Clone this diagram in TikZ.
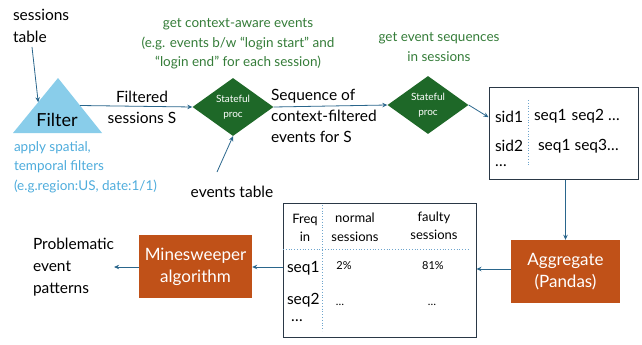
\documentclass[tikz,border=0pt]{standalone}
\usepackage{fontspec}
\setmainfont{Lato}
\usetikzlibrary{shapes.geometric,arrows.meta,calc}

\definecolor{skyfill}{RGB}{137,205,234}
\definecolor{skytext}{RGB}{78,172,220}
\definecolor{procgreen}{RGB}{30,104,40}
\definecolor{notegreen}{RGB}{52,124,56}
\definecolor{rust}{RGB}{192,81,24}
\definecolor{flow}{RGB}{42,102,140}
\definecolor{frame}{RGB}{42,56,70}
\definecolor{dots}{RGB}{110,165,205}

\newcommand{\fs}[2]{\fontsize{#1}{#2}\selectfont}

\tikzset{
  txt/.style={inner sep=0pt, outer sep=0pt},
  flowarrow/.style={draw=flow, line width=0.8pt, -{Stealth[length=5pt,width=4.5pt]}},
  proc/.style={shape=diamond, fill=procgreen, text=white, inner sep=0pt,
    minimum width=81pt, minimum height=57pt, font=\fs{10}{15}, align=center},
  algbox/.style={fill=rust, text=white, inner sep=0pt, font=\fs{17}{22}, align=center},
  tablebox/.style={draw=frame, line width=1pt, fill=white, inner sep=0pt},
  dotline/.style={draw=dots, line width=0.8pt, dotted},
  note/.style={txt, text=notegreen, font=\fs{13.5}{19.5}, align=center},
}

\begin{document}
\begin{tikzpicture}[x=1pt,y=-1pt]
\useasboundingbox (0,0) rectangle (642,345);

% source and filter stage
\node[txt, anchor=west, align=left, font=\fs{15.5}{22}] (sess) at (13,26) {sessions\\table};
\coordinate (sessfoot) at (32,47);
\coordinate (tA) at (58,78);
\coordinate (tL) at (13,133);
\coordinate (tR) at (102,133);
\fill[skyfill] (tL) -- (tA) -- (tR) -- cycle;
\node[txt, font=\fs{18}{22}] (filter) at (57,120) {Filter};
\coordinate (tLin) at ($(tL)!0.56!(tA)$);
\coordinate (tRout) at ($(tR)!0.5!(tA)$);
\node[txt, anchor=west, align=left, text=skytext, font=\fs{13.5}{19.5}] (filtnote) at (14,167)
  {apply spatial,\\temporal filters\\(e.g.region:US, date:1/1)};

% stateful processing
\node[proc] (p1) at (233,107) {Stateful\\proc};
\node[proc] (p2) at (428,105) {Stateful\\proc};
\node[note] (n1) at (238,44) {get context-aware events\\(e.g. events b/w “login start” and\\“login end” for each session)};
\node[note] (n2) at (439,47) {get event sequences\\in sessions};
\node[txt, align=center, font=\fs{15.5}{21}] (lbl1) at (142,107) {Filtered\\sessions S};
\node[txt, anchor=west, align=left, font=\fs{15.5}{21}] (lbl2) at (271,116) {Sequence of\\context-filtered\\events for S};
\node[txt, font=\fs{15.5}{20}] (evt) at (232,192) {events table};
\coordinate (evtfoot) at (217,172);

% session sequences box
\node[tablebox, minimum width=149pt, minimum height=92pt] (sq) at (563.5,133) {};
\draw[dotline] (528,100) -- (528,166);
\node[txt, anchor=west, font=\fs{15.5}{20}] (sid1) at (495,117) {sid1};
\node[txt, anchor=west, font=\fs{15.5}{20}] (sid2) at (495,146) {sid2};
\node[txt, anchor=west, font=\fs{15.5}{20}] (sid3) at (495,166) {…};
\node[txt, anchor=west, font=\fs{15.5}{20}] (row1) at (534,116) {seq1\hspace{5pt}seq2 …};
\node[txt, anchor=west, font=\fs{15.5}{20}] (row2) at (538,146) {seq1 seq3…};
\coordinate (sqin) at ($(sq.north west)!0.33!(sq.south west)$);

% aggregation and frequency table
\node[algbox, minimum width=109pt, minimum height=63pt] (agg) at (565.5,271.5) {Aggregate\\(Pandas)};
\node[tablebox, minimum width=193pt, minimum height=134pt] (ft) at (379.5,270) {};
\draw[dotline] (322,205) -- (322,331);
\draw[dotline] (283,249) -- (469,249);
\node[txt, align=center, font=\fs{13}{18}] (hfreq) at (305,228) {Freq\\in};
\node[txt, align=center, font=\fs{13}{19}] (hnorm) at (355,227.5) {normal\\sessions};
\node[txt, align=center, font=\fs{13}{18}] (hfault) at (434,225.5) {faulty\\sessions};
\node[txt, anchor=west, font=\fs{15.5}{20}] (fs1) at (287,268) {seq1};
\node[txt, anchor=west, font=\fs{15.5}{20}] (fs2) at (287,300) {seq2};
\node[txt, anchor=west, font=\fs{15.5}{20}] (fs3) at (291,321) {…};
\node[txt, font=\fs{11}{14}] (v11) at (344,266) {2\%};
\node[txt, font=\fs{11}{14}] (v12) at (433,266) {81\%};
\node[txt, font=\fs{11}{14}] (v21) at (340,305) {…};
\node[txt, font=\fs{11}{14}] (v22) at (432,305) {…};

% detection stage and result
\node[algbox, minimum width=113pt, minimum height=63pt] (mine) at (195.5,266.5) {Minesweeper\\algorithm};
\node[txt, anchor=west, align=left, font=\fs{15.5}{22}] (result) at (33,267) {Problematic\\event\\patterns};

% connectors
\draw[flowarrow] (sessfoot) -- (tLin);
\draw[flowarrow] (tRout) -- (p1.west);
\draw[flowarrow] (evtfoot) -- (p1.south);
\draw[flowarrow] (p1.east) -- (p2.west);
\draw[flowarrow] (p2.east) -- (sqin);
\draw[flowarrow] (sq.south -| agg.north) -- (agg.north);
\draw[flowarrow] (agg.west |- 0,269) -- (ft.east |- 0,269);
\draw[flowarrow] (ft.west |- 0,267) -- (mine.east |- 0,267);
\draw[flowarrow] (mine.west |- 0,267) -- (result.east |- 0,267);
\end{tikzpicture}
\end{document}
